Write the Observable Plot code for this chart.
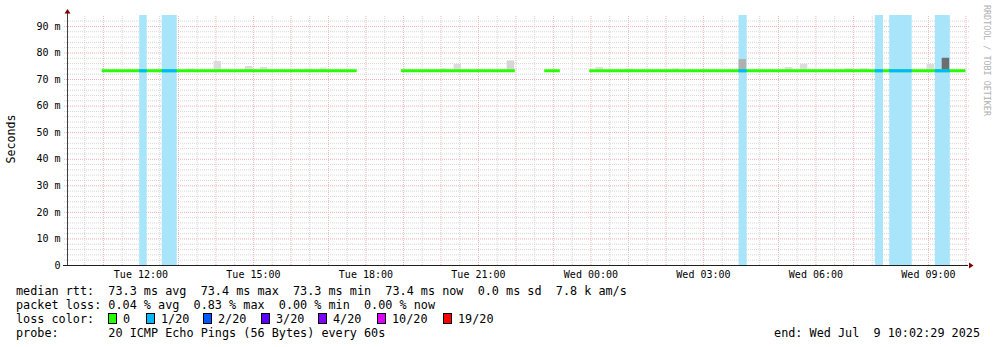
<!DOCTYPE html>
<html><head><meta charset="utf-8">
<script src="https://cdn.jsdelivr.net/npm/d3@7"></script>
<script src="https://cdn.jsdelivr.net/npm/@observablehq/plot@0.6"></script>
<style>
html,body{margin:0;padding:0;background:#fff;}
#wrap{position:relative;width:997px;height:347px;overflow:hidden;font-family:"DejaVu Sans Mono",monospace;color:#000;background:#fff;}
#chart{position:absolute;left:0;top:0;}
.lg{position:absolute;font-size:11.8px;line-height:14px;white-space:pre;}
.box{position:absolute;width:9px;height:11px;box-sizing:border-box;border:1px solid #000;}
#ylab{position:absolute;left:11px;top:139px;font-size:11.6px;white-space:pre;transform:translate(-50%,-50%) rotate(-90deg);}
#credit{position:absolute;left:982px;top:5px;font-size:8.4px;color:#b0b0b0;writing-mode:vertical-rl;white-space:pre;}
</style></head><body>
<div id="wrap"><div id="chart"></div></div>
<script>
// ---- data ----
const startTime = "2025-07-08T10:02:29";
const endTime = "2025-07-09T10:02:29";
const yTicks = [0, 10, 20, 30, 40, 50, 60, 70, 80, 90];
const yMax = 94.1;

// median rtt segments (ms)
const segStart = ["2025-07-08T10:58", "2025-07-08T18:57", "2025-07-08T22:46", "2025-07-08T23:58"];
const segEnd = ["2025-07-08T17:46", "2025-07-08T21:59", "2025-07-08T23:11", "2025-07-09T10:00"];
const segMedian = [73.3, 73.3, 73.3, 73.3];

// packet loss intervals (lost pings out of 20)
const lossStart = ["2025-07-08T11:58", "2025-07-08T12:34", "2025-07-09T03:57", "2025-07-09T07:35", "2025-07-09T07:58", "2025-07-09T09:11"];
const lossEnd = ["2025-07-08T12:10", "2025-07-08T12:58", "2025-07-09T04:10", "2025-07-09T07:48", "2025-07-09T08:34", "2025-07-09T09:35"];
const lossCount = [1, 1, 1, 1, 1, 1];

// smoke (ping spread) bins, 12 min each
const smokeStart = ["2025-07-08T13:14", "2025-07-08T13:57", "2025-07-08T14:47", "2025-07-08T15:11", "2025-07-08T16:23", "2025-07-08T16:47",
  "2025-07-08T19:59", "2025-07-08T20:21", "2025-07-08T21:46", "2025-07-09T00:08", "2025-07-09T00:56", "2025-07-09T02:10",
  "2025-07-09T03:57", "2025-07-09T05:11", "2025-07-09T05:35", "2025-07-09T06:47", "2025-07-09T07:11", "2025-07-09T08:58", "2025-07-09T09:22"];
const smokeTop = [73.9, 76.8, 74.9, 74.5, 74.0, 74.3, 74.1, 75.7, 77.0, 74.5, 74.0, 74.1, 77.5, 74.5, 75.7, 74.1, 74.1, 75.7, 78.0];
const smokeShade = ["#dedede", "#dcdcdc", "#dcdcdc", "#dcdcdc", "#dedede", "#dedede", "#dedede", "#dcdcdc", "#d6d6d6", "#dcdcdc", "#dedede", "#dedede",
  "#b0b0b0", "#dcdcdc", "#dcdcdc", "#dedede", "#dedede", "#dcdcdc", "#6e6e6e"];

// legend
const rttLabels = ["avg", "max", "min", "now"];
const rttValues = [73.3, 73.4, 73.3, 73.4];
const rttSd = "0.0 ms sd";
const rttAms = "7.8 k am/s";
const lossPct = [0.04, 0.83, 0.00, 0.00];
const lossLevels = [0, 1, 2, 3, 4, 10, 19];
const lossLabels = ["0", "1/20", "2/20", "3/20", "4/20", "10/20", "19/20"];
const lossColors = ["#26ff00", "#00b8ff", "#0059ff", "#5e00ff", "#7e00ff", "#dd00ff", "#ff0000"];
const probeText = "20 ICMP Echo Pings (56 Bytes) every 60s";
const endText = "end: Wed Jul  9 10:02:29 2025";

// ---- build ----
const P = s => new Date(s + "Z");
const t0 = P(startTime), t1 = P(endTime);
const pxMs = (t1 - t0) / 900;
const shift = (d, n) => new Date(+d + n * pxMs);
const colorFor = c => { let k = 0; lossLevels.forEach((l, i) => { if (c >= l) k = i; }); return lossColors[k]; };

const segs = segStart.map((s, i) => ({start: P(s), end: P(segEnd[i]), median: segMedian[i]}));
const losses = lossStart.map((s, i) => ({start: P(s), end: P(lossEnd[i]), color: colorFor(lossCount[i]), median: segMedian[0]}));
const smoke = smokeStart.map((s, i) => ({start: P(s), end: new Date(+P(s) + 12 * 60000), top: smokeTop[i], shade: smokeShade[i], base: segMedian[0]}));

const halfHours = d3.utcMinute.every(30).range(t0, t1);
const minorX = halfHours.filter(d => d.getUTCMinutes() === 30);
const majorX = halfHours.filter(d => d.getUTCMinutes() === 0);
const minorY = d3.range(2, 94, 2).filter(v => v % 10 !== 0);
const majorY = yTicks.filter(v => v > 0);
const xTicks = d3.utcHour.every(3).range(t0, t1);

const upArrow = {draw(c) { c.moveTo(0, -2.5); c.lineTo(3, 2); c.lineTo(-3, 2); c.closePath(); }};
const rightArrow = {draw(c) { c.moveTo(2.5, 0); c.lineTo(-2, -3); c.lineTo(-2, 3); c.closePath(); }};

const yTopExt = yMax * (265 - 12) / 250;
const yArrow = yMax * (265 - 11) / 250;

const chart = Plot.plot({
  width: 997, height: 280,
  marginLeft: 67, marginRight: 30, marginTop: 15, marginBottom: 15,
  x: {type: "utc", domain: [t0, t1]},
  y: {domain: [0, yMax]},
  color: {type: "identity"},
  style: {fontFamily: "DejaVu Sans Mono", fontSize: "10px", color: "#000", background: "transparent", overflow: "visible"},
  marks: [
    Plot.ruleX(minorX, {y1: 0, y2: yMax, stroke: "#d6d6d6", strokeDasharray: "1,1"}),
    Plot.ruleX(majorX, {y1: 0, y2: yMax, stroke: "#efb6b6", strokeDasharray: "1,1"}),
    Plot.ruleY(minorY, {x1: shift(t0, -3), x2: shift(t1, 2), stroke: "#d6d6d6", strokeDasharray: "1,1"}),
    Plot.ruleY(majorY, {x1: shift(t0, -3), x2: shift(t1, 2), stroke: "#efb0b0", strokeDasharray: "1,1"}),
    Plot.rect(losses, {x1: "start", x2: "end", y1: 0, y2: yMax, fill: "#a8e4fa"}),
    Plot.rect(smoke, {x1: "start", x2: "end", y1: "base", y2: "top", fill: "shade"}),
    Plot.ruleY(segs, {y: "median", x1: "start", x2: "end", stroke: lossColors[0], strokeWidth: 3}),
    Plot.ruleY(losses, {y: "median", x1: "start", x2: "end", stroke: "color", strokeWidth: 3}),
    Plot.ruleX([t0], {y1: 0, y2: yTopExt, stroke: "#404040"}),
    Plot.ruleY([0], {x1: shift(t0, -4), x2: shift(t1, 1), stroke: "#1f1f1f"}),
    Plot.dot([t0], {x: d => d, y: yArrow, symbol: upArrow, fill: "#800000", stroke: null, r: 3}),
    Plot.dot([t1], {x: d => shift(d, 3.5), y: 0, symbol: rightArrow, fill: "#800000", stroke: null, r: 3}),
    Plot.axisX(xTicks, {tickFormat: d3.utcFormat("%a %H:%M"), tickSize: 0, tickPadding: 5.5, label: null, fill: "#000"}),
    Plot.axisY(yTicks, {tickFormat: d => d === 0 ? "0" : d + " m", tickSize: 0, tickPadding: 7, label: null, fill: "#000"})
  ]
});
const wrap = document.getElementById("wrap");
document.getElementById("chart").appendChild(chart);

function addDiv(cls, text, left, top) {
  const d = document.createElement("div");
  d.className = cls;
  d.textContent = text;
  d.style.left = left + "px";
  d.style.top = top + "px";
  wrap.appendChild(d);
  return d;
}

const ylab = document.createElement("div"); ylab.id = "ylab"; ylab.textContent = "Seconds"; wrap.appendChild(ylab);
const credit = document.createElement("div"); credit.id = "credit"; credit.textContent = "RRDTOOL / TOBI OETIKER"; wrap.appendChild(credit);

const rttLine = "median rtt:  " + rttValues.map((v, i) => v.toFixed(1) + " ms " + rttLabels[i]).join("  ") + "  " + rttSd + "  " + rttAms;
const lossLine = "packet loss: " + lossPct.map((v, i) => v.toFixed(2) + " % " + rttLabels[i]).join("  ");
addDiv("lg", rttLine, 16, 284);
addDiv("lg", lossLine, 16, 298);
addDiv("lg", "loss color:", 16, 312);
const boxX = [108, 146, 203, 261, 318, 377, 443];
lossLabels.forEach((lab, i) => {
  const b = document.createElement("div");
  b.className = "box";
  b.style.left = boxX[i] + "px"; b.style.top = "313px"; b.style.background = lossColors[i];
  wrap.appendChild(b);
  addDiv("lg", lab, boxX[i] + 15, 312);
});
addDiv("lg", "probe:       " + probeText, 16, 326);
const e = addDiv("lg", endText, 0, 326);
e.style.left = "auto"; e.style.right = "17px";
</script></body></html>
